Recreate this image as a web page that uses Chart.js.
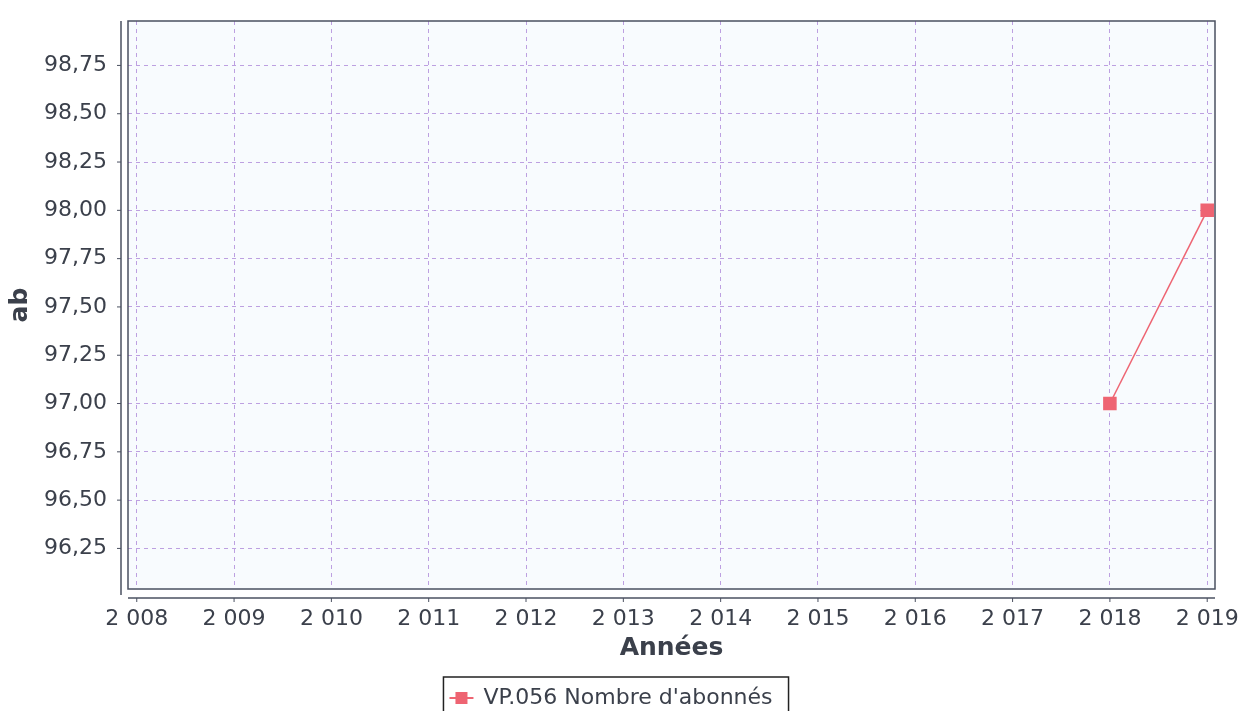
<!DOCTYPE html>
<html>
<head>
<meta charset="utf-8">
<script src="https://cdn.jsdelivr.net/npm/chart.js@4/dist/chart.umd.min.js"></script>
<style>
  html, body { margin: 0; padding: 0; background: #ffffff; }
  #wrap { width: 1242px; height: 711px; }
</style>
</head>
<body>
<div id="wrap"><canvas id="chart" width="1242" height="711"></canvas></div>
<script>
// data
const years = [2008, 2009, 2010, 2011, 2012, 2013, 2014, 2015, 2016, 2017, 2018, 2019];
const pointYears = [2018, 2019];
const pointValues = [97.0, 98.0];
const yTicks = [96.25, 96.5, 96.75, 97.0, 97.25, 97.5, 97.75, 98.0, 98.25, 98.5, 98.75];
const seriesLabel = "VP.056 Nombre d'abonnés";

const textColor = '#3b404b';
const frameColor = '#4a5060';
const gridColor = 'rgba(170, 130, 215, 0.75)';
const lineColor = '#ee6472';

// French style number formats
function fmtYear(v) {
  const s = String(Math.round(v));
  return s.slice(0, 1) + ' ' + s.slice(1);
}
function fmtValue(v) {
  return v.toFixed(2).replace('.', ',');
}

// plot background, frame, offset axis lines and custom legend
const framePlugin = {
  id: 'frame',
  beforeDraw(chart) {
    const { ctx, chartArea: a } = chart;
    ctx.save();
    ctx.fillStyle = '#f8fbfe';
    ctx.fillRect(a.left, a.top, a.right - a.left, a.bottom - a.top);
    ctx.restore();
  },
  afterDraw(chart) {
    const { ctx, chartArea: a, scales } = chart;
    ctx.save();
    ctx.strokeStyle = frameColor;
    ctx.lineWidth = 1.5;
    ctx.strokeRect(a.left, a.top, a.right - a.left, a.bottom - a.top);

    // y axis line, a bit left of the plot
    const ax = a.left - 7;
    ctx.beginPath();
    ctx.moveTo(ax, a.top);
    ctx.lineTo(ax, a.bottom + 6);
    ctx.stroke();
    ctx.lineWidth = 1;
    yTicks.forEach(v => {
      const y = scales.y.getPixelForValue(v);
      ctx.beginPath();
      ctx.moveTo(ax - 4, y);
      ctx.lineTo(ax, y);
      ctx.stroke();
    });

    // x axis line, a bit under the plot
    const ay = a.bottom + 9;
    ctx.lineWidth = 1.5;
    ctx.beginPath();
    ctx.moveTo(a.left, ay);
    ctx.lineTo(a.right, ay);
    ctx.stroke();
    ctx.lineWidth = 1;
    years.forEach(v => {
      const x = scales.x.getPixelForValue(v);
      ctx.beginPath();
      ctx.moveTo(x, ay);
      ctx.lineTo(x, ay + 4);
      ctx.stroke();
    });

    // legend box
    const ds = chart.data.datasets[0];
    ctx.font = '22px "DejaVu Sans"';
    const tw = ctx.measureText(ds.label).width;
    const boxW = tw + 56;
    const bx = 616 - boxW / 2;
    const by = 677;
    ctx.strokeStyle = '#222';
    ctx.lineWidth = 1.5;
    ctx.strokeRect(bx, by, boxW, 50);
    const cy = by + 21;
    ctx.strokeStyle = ds.borderColor;
    ctx.lineWidth = 2;
    ctx.beginPath();
    ctx.moveTo(bx + 6, cy);
    ctx.lineTo(bx + 30, cy);
    ctx.stroke();
    ctx.fillStyle = ds.pointBackgroundColor;
    ctx.fillRect(bx + 12, cy - 6, 12, 12);
    ctx.fillStyle = textColor;
    ctx.textBaseline = 'middle';
    ctx.fillText(ds.label, bx + 40, cy);
    ctx.restore();
  }
};

new Chart(document.getElementById('chart').getContext('2d'), {
  type: 'line',
  data: {
    datasets: [{
      label: seriesLabel,
      data: pointYears.map((yr, i) => ({ x: yr, y: pointValues[i] })),
      borderColor: lineColor,
      backgroundColor: lineColor,
      pointBackgroundColor: lineColor,
      pointBorderColor: lineColor,
      borderWidth: 1.5,
      pointStyle: 'rect',
      pointRadius: 8.5,
      tension: 0
    }]
  },
  options: {
    responsive: false,
    animation: false,
    layout: { padding: { left: 0, top: 21, right: 27, bottom: 48 } },
    plugins: {
      legend: { display: false },
      tooltip: { enabled: false }
    },
    scales: {
      x: {
        type: 'linear',
        min: 2007.91,
        max: 2019.08,
        afterBuildTicks: axis => { axis.ticks = years.map(v => ({ value: v })); },
        afterFit: scale => {
          scale.height = 74;
          scale.paddingLeft = 0;
          scale.paddingRight = 0;
        },
        grid: { color: gridColor, drawTicks: false },
        border: { display: false, dash: [4, 4] },
        ticks: {
          color: textColor,
          font: { family: 'DejaVu Sans', size: 22 },
          padding: 17,
          maxRotation: 0,
          autoSkip: false,
          callback: v => fmtYear(v)
        },
        title: {
          display: true,
          text: 'Années',
          color: textColor,
          font: { family: 'DejaVu Sans', size: 25, weight: 'bold' },
          padding: 0
        }
      },
      y: {
        min: 96.04,
        max: 98.98,
        afterBuildTicks: axis => { axis.ticks = yTicks.map(v => ({ value: v })); },
        afterFit: scale => {
          scale.width = 128;
          scale.paddingTop = 0;
          scale.paddingBottom = 0;
        },
        grid: { color: gridColor, drawTicks: false },
        border: { display: false, dash: [4, 4] },
        ticks: {
          color: textColor,
          font: { family: 'DejaVu Sans', size: 22 },
          padding: 21,
          callback: v => fmtValue(v)
        },
        title: {
          display: true,
          text: 'ab',
          color: textColor,
          font: { family: 'DejaVu Sans', size: 25, weight: 'bold' },
          padding: { top: 5, bottom: 0 }
        }
      }
    }
  },
  plugins: [framePlugin]
});
</script>
</body>
</html>
